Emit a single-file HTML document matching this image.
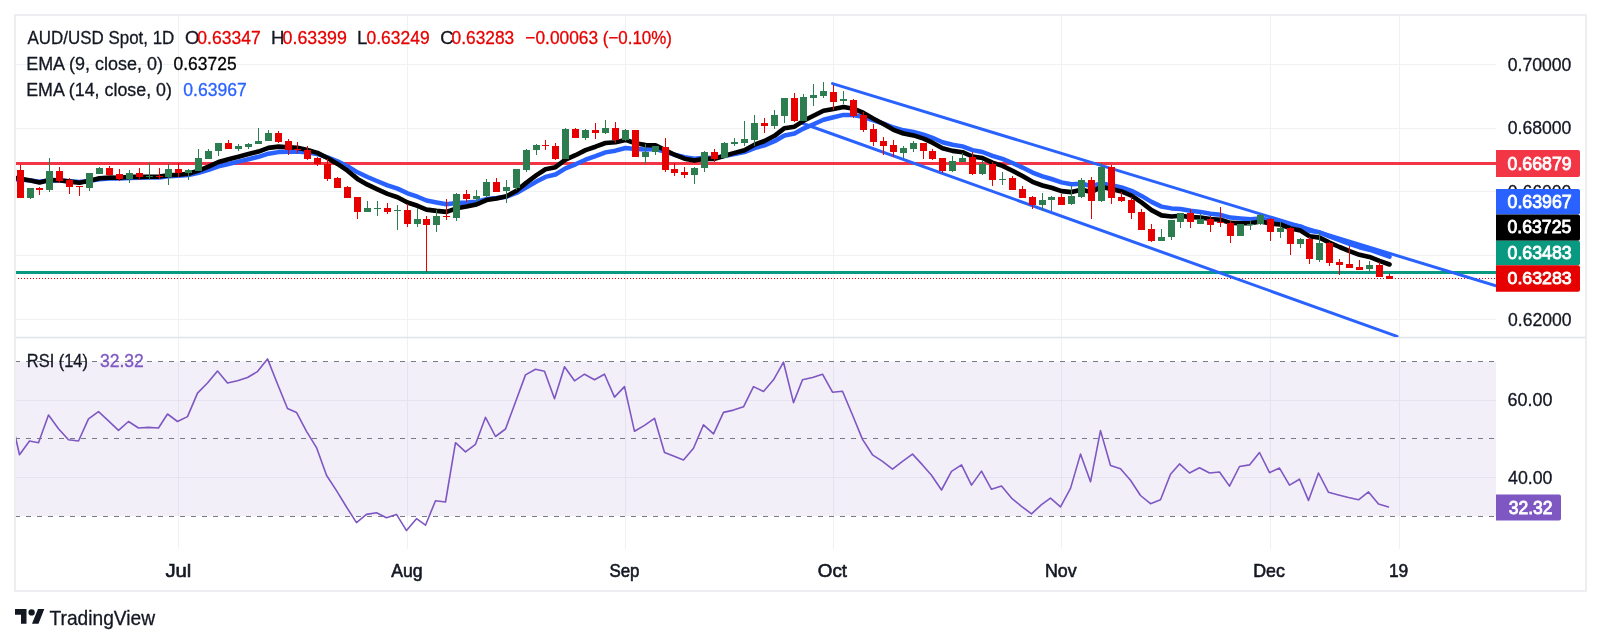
<!DOCTYPE html>
<html><head><meta charset="utf-8"><title>AUD/USD</title>
<style>html,body{margin:0;padding:0;background:#ffffff;}body{width:1601px;height:644px;overflow:hidden;position:relative;}</style>
</head><body>
<svg width="1601" height="644" viewBox="0 0 1601 644" style="position:absolute;left:0;top:0;will-change:transform"><defs><clipPath id="pp"><rect x="16" y="16" width="1480" height="321"/></clipPath><clipPath id="rp"><rect x="16" y="338" width="1480" height="211"/></clipPath></defs><rect x="15" y="15" width="1571" height="576" fill="none" stroke="#eceef2" stroke-width="2"/><line x1="178.5" y1="16" x2="178.5" y2="549" stroke="#eff1f4" stroke-width="1"/><line x1="407.5" y1="16" x2="407.5" y2="549" stroke="#eff1f4" stroke-width="1"/><line x1="625.5" y1="16" x2="625.5" y2="549" stroke="#eff1f4" stroke-width="1"/><line x1="833.5" y1="16" x2="833.5" y2="549" stroke="#eff1f4" stroke-width="1"/><line x1="1061.5" y1="16" x2="1061.5" y2="549" stroke="#eff1f4" stroke-width="1"/><line x1="1270.5" y1="16" x2="1270.5" y2="549" stroke="#eff1f4" stroke-width="1"/><line x1="1399.5" y1="16" x2="1399.5" y2="549" stroke="#eff1f4" stroke-width="1"/><line x1="16" y1="64.5" x2="1496" y2="64.5" stroke="#eff1f4" stroke-width="1"/><line x1="16" y1="128.5" x2="1496" y2="128.5" stroke="#eff1f4" stroke-width="1"/><line x1="16" y1="191.5" x2="1496" y2="191.5" stroke="#eff1f4" stroke-width="1"/><line x1="16" y1="255.5" x2="1496" y2="255.5" stroke="#eff1f4" stroke-width="1"/><line x1="16" y1="319.5" x2="1496" y2="319.5" stroke="#eff1f4" stroke-width="1"/><line x1="16" y1="400.5" x2="1496" y2="400.5" stroke="#eff1f4" stroke-width="1"/><line x1="16" y1="477.5" x2="1496" y2="477.5" stroke="#eff1f4" stroke-width="1"/><line x1="16" y1="337.5" x2="1585" y2="337.5" stroke="#e0e3eb" stroke-width="1.3"/><g clip-path="url(#pp)"><line x1="16" y1="163.5" x2="1496" y2="163.5" stroke="#f23645" stroke-width="3"/><line x1="16" y1="272.5" x2="1496" y2="272.5" stroke="#089981" stroke-width="3"/><line x1="18" y1="278.5" x2="1496" y2="278.5" stroke="#e60000" stroke-width="1" stroke-dasharray="1 2"/><line x1="832.5" y1="83.6" x2="1496" y2="285.8" stroke="#2962ff" stroke-width="3" stroke-linecap="round"/><line x1="803" y1="123.5" x2="1397" y2="336.3" stroke="#2962ff" stroke-width="3" stroke-linecap="round"/><polyline points="10.5,179.5 20.5,179.5 30.5,180.6 39.5,181.8 49.5,180.4 59.5,180.4 69.5,181.3 79.5,182.1 89.5,180.9 99.5,179.2 109.5,178.6 119.5,178.6 129.5,177.9 139.5,177.8 149.5,177.5 159.5,177.4 168.5,176.3 178.5,175.8 188.5,175.1 198.5,172.8 208.5,169.9 218.5,166.3 228.5,164.0 238.5,161.6 248.5,159.2 258.5,156.8 268.5,153.7 278.5,152.1 288.5,151.7 297.5,151.5 307.5,152.5 317.5,154.1 327.5,157.4 337.5,161.4 347.5,166.2 357.5,172.3 367.5,177.0 377.5,181.2 387.5,185.3 397.5,188.6 407.5,193.3 417.5,196.7 426.5,200.5 436.5,202.5 446.5,204.3 456.5,203.0 466.5,202.5 476.5,201.7 486.5,199.1 496.5,198.1 506.5,196.7 516.5,193.0 526.5,187.3 536.5,181.6 545.5,176.9 555.5,174.5 565.5,168.4 575.5,164.3 585.5,159.7 595.5,156.2 605.5,152.4 615.5,150.7 625.5,148.0 635.5,149.1 645.5,149.6 655.5,149.1 665.5,151.9 674.5,154.7 684.5,157.3 694.5,158.7 704.5,157.8 714.5,158.0 724.5,156.0 734.5,154.1 744.5,152.1 754.5,148.2 764.5,145.3 774.5,141.2 784.5,135.5 794.5,133.5 803.5,128.6 813.5,124.2 823.5,119.8 833.5,117.3 843.5,114.9 853.5,115.0 863.5,117.0 873.5,120.3 883.5,123.7 893.5,127.5 903.5,130.3 913.5,132.0 923.5,134.6 932.5,137.8 942.5,142.2 952.5,144.7 962.5,146.4 972.5,150.1 982.5,152.0 992.5,155.8 1002.5,158.9 1012.5,163.0 1022.5,167.6 1032.5,172.6 1042.5,176.3 1051.5,179.0 1061.5,182.4 1071.5,184.2 1081.5,183.7 1091.5,186.0 1101.5,183.4 1111.5,185.3 1121.5,187.4 1131.5,190.8 1141.5,195.9 1151.5,201.9 1161.5,206.6 1171.5,208.4 1180.5,209.0 1190.5,210.8 1200.5,211.9 1210.5,213.7 1220.5,214.8 1230.5,217.6 1240.5,218.5 1250.5,219.2 1260.5,218.6 1270.5,220.3 1280.5,221.4 1290.5,224.4 1300.5,226.4 1309.5,230.7 1319.5,232.3 1329.5,236.4 1339.5,240.2 1349.5,243.8 1359.5,247.2 1369.5,249.7 1379.5,253.2 1389.5,256.7" fill="none" stroke="#2962ff" stroke-width="4.5" stroke-linejoin="round" stroke-linecap="round"/><polyline points="10.5,177.0 20.5,178.8 30.5,180.6 39.5,182.4 49.5,180.1 59.5,180.3 69.5,181.6 79.5,182.7 89.5,180.8 99.5,178.3 109.5,177.6 119.5,177.8 129.5,176.9 139.5,176.9 149.5,176.7 159.5,176.6 168.5,175.2 178.5,174.7 188.5,173.8 198.5,170.6 208.5,166.7 218.5,162.0 228.5,159.3 238.5,156.7 248.5,154.1 258.5,151.6 268.5,147.9 278.5,146.6 288.5,147.2 297.5,147.8 307.5,150.0 317.5,152.9 327.5,158.0 337.5,163.9 347.5,170.7 357.5,178.9 367.5,184.7 377.5,189.4 387.5,193.9 397.5,197.2 407.5,202.5 417.5,205.8 426.5,209.6 436.5,210.9 446.5,211.9 456.5,208.3 466.5,206.5 476.5,204.5 486.5,200.1 496.5,198.4 506.5,196.2 516.5,190.8 526.5,182.6 536.5,175.1 545.5,169.3 555.5,167.2 565.5,159.6 575.5,155.2 585.5,150.1 595.5,146.7 605.5,143.0 615.5,142.3 625.5,139.9 635.5,143.2 645.5,145.1 655.5,145.3 665.5,150.2 674.5,154.7 684.5,158.7 694.5,160.6 704.5,158.8 714.5,158.9 724.5,155.7 734.5,152.9 744.5,150.2 754.5,144.7 764.5,141.0 774.5,135.8 784.5,128.2 794.5,126.7 803.5,120.8 813.5,115.7 823.5,110.7 833.5,108.9 843.5,106.9 853.5,108.7 863.5,112.9 873.5,118.7 883.5,124.1 893.5,129.8 903.5,133.5 913.5,135.4 923.5,138.6 932.5,142.7 942.5,148.2 952.5,150.9 962.5,152.2 972.5,156.5 982.5,158.1 992.5,162.6 1002.5,165.9 1012.5,170.7 1022.5,176.1 1032.5,181.8 1042.5,185.5 1051.5,187.8 1061.5,191.1 1071.5,192.1 1081.5,189.7 1091.5,191.9 1101.5,186.9 1111.5,189.1 1121.5,191.4 1131.5,195.7 1141.5,202.4 1151.5,210.1 1161.5,215.4 1171.5,216.5 1180.5,215.8 1190.5,217.1 1200.5,217.5 1210.5,219.0 1220.5,219.7 1230.5,222.9 1240.5,223.2 1250.5,223.2 1260.5,221.6 1270.5,223.6 1280.5,224.5 1290.5,228.4 1300.5,230.6 1309.5,236.2 1319.5,237.6 1329.5,242.6 1339.5,247.0 1349.5,251.1 1359.5,254.8 1369.5,256.9 1379.5,260.9 1389.5,264.5" fill="none" stroke="#000000" stroke-width="4.6" stroke-linejoin="round" stroke-linecap="round"/><rect x="20" y="165" width="1" height="33" fill="#e60000"/><rect x="17" y="170" width="7" height="28" fill="#e60000"/><rect x="30" y="188" width="1" height="11" fill="#2e7d50"/><rect x="27" y="188" width="7" height="10" fill="#2e7d50"/><rect x="39" y="187" width="1" height="8" fill="#e60000"/><rect x="36" y="188" width="7" height="2" fill="#e60000"/><rect x="49" y="158" width="1" height="34" fill="#2e7d50"/><rect x="46" y="171" width="7" height="19" fill="#2e7d50"/><rect x="59" y="167" width="1" height="16" fill="#e60000"/><rect x="56" y="171" width="7" height="10" fill="#e60000"/><rect x="69" y="178" width="1" height="16" fill="#e60000"/><rect x="66" y="180" width="7" height="7" fill="#e60000"/><rect x="79" y="186" width="1" height="10" fill="#e60000"/><rect x="76" y="186" width="7" height="1" fill="#e60000"/><rect x="89" y="173" width="1" height="18" fill="#2e7d50"/><rect x="86" y="173" width="7" height="15" fill="#2e7d50"/><rect x="99" y="167" width="1" height="7" fill="#2e7d50"/><rect x="96" y="168" width="7" height="6" fill="#2e7d50"/><rect x="109" y="166" width="1" height="10" fill="#e60000"/><rect x="106" y="168" width="7" height="7" fill="#e60000"/><rect x="119" y="169" width="1" height="12" fill="#e60000"/><rect x="116" y="174" width="7" height="5" fill="#e60000"/><rect x="129" y="170" width="1" height="13" fill="#2e7d50"/><rect x="126" y="173" width="7" height="6" fill="#2e7d50"/><rect x="139" y="168" width="1" height="12" fill="#e60000"/><rect x="136" y="173" width="7" height="4" fill="#e60000"/><rect x="149" y="163" width="1" height="17" fill="#2e7d50"/><rect x="146" y="176" width="7" height="1" fill="#2e7d50"/><rect x="159" y="168" width="1" height="11" fill="#e60000"/><rect x="156" y="176" width="7" height="1" fill="#e60000"/><rect x="168" y="164" width="1" height="21" fill="#2e7d50"/><rect x="165" y="169" width="7" height="8" fill="#2e7d50"/><rect x="178" y="163" width="1" height="14" fill="#e60000"/><rect x="175" y="169" width="7" height="4" fill="#e60000"/><rect x="188" y="169" width="1" height="11" fill="#2e7d50"/><rect x="185" y="170" width="7" height="3" fill="#2e7d50"/><rect x="198" y="149" width="1" height="22" fill="#2e7d50"/><rect x="195" y="158" width="7" height="13" fill="#2e7d50"/><rect x="208" y="149" width="1" height="10" fill="#2e7d50"/><rect x="205" y="151" width="7" height="8" fill="#2e7d50"/><rect x="218" y="143" width="1" height="13" fill="#2e7d50"/><rect x="215" y="143" width="7" height="8" fill="#2e7d50"/><rect x="228" y="140" width="1" height="9" fill="#e60000"/><rect x="225" y="143" width="7" height="6" fill="#e60000"/><rect x="238" y="144" width="1" height="7" fill="#2e7d50"/><rect x="235" y="146" width="7" height="3" fill="#2e7d50"/><rect x="248" y="143" width="1" height="6" fill="#2e7d50"/><rect x="245" y="144" width="7" height="3" fill="#2e7d50"/><rect x="258" y="128" width="1" height="16" fill="#2e7d50"/><rect x="255" y="141" width="7" height="3" fill="#2e7d50"/><rect x="268" y="130" width="1" height="11" fill="#2e7d50"/><rect x="265" y="133" width="7" height="8" fill="#2e7d50"/><rect x="278" y="131" width="1" height="12" fill="#e60000"/><rect x="275" y="133" width="7" height="9" fill="#e60000"/><rect x="288" y="139" width="1" height="16" fill="#e60000"/><rect x="285" y="141" width="7" height="9" fill="#e60000"/><rect x="297" y="142" width="1" height="11" fill="#e60000"/><rect x="294" y="149" width="7" height="1" fill="#e60000"/><rect x="307" y="146" width="1" height="14" fill="#e60000"/><rect x="304" y="150" width="7" height="9" fill="#e60000"/><rect x="317" y="157" width="1" height="9" fill="#e60000"/><rect x="314" y="158" width="7" height="6" fill="#e60000"/><rect x="327" y="159" width="1" height="22" fill="#e60000"/><rect x="324" y="164" width="7" height="15" fill="#e60000"/><rect x="337" y="177" width="1" height="11" fill="#e60000"/><rect x="334" y="178" width="7" height="10" fill="#e60000"/><rect x="347" y="186" width="1" height="12" fill="#e60000"/><rect x="344" y="187" width="7" height="11" fill="#e60000"/><rect x="357" y="197" width="1" height="22" fill="#e60000"/><rect x="354" y="197" width="7" height="15" fill="#e60000"/><rect x="367" y="201" width="1" height="11" fill="#2e7d50"/><rect x="364" y="208" width="7" height="4" fill="#2e7d50"/><rect x="377" y="201" width="1" height="15" fill="#2e7d50"/><rect x="374" y="208" width="7" height="1" fill="#2e7d50"/><rect x="387" y="203" width="1" height="11" fill="#e60000"/><rect x="384" y="208" width="7" height="4" fill="#e60000"/><rect x="397" y="205" width="1" height="25" fill="#2e7d50"/><rect x="394" y="210" width="7" height="1" fill="#2e7d50"/><rect x="407" y="204" width="1" height="23" fill="#e60000"/><rect x="404" y="210" width="7" height="14" fill="#e60000"/><rect x="417" y="208" width="1" height="19" fill="#2e7d50"/><rect x="414" y="219" width="7" height="5" fill="#2e7d50"/><rect x="426" y="216" width="1" height="56" fill="#e60000"/><rect x="423" y="219" width="7" height="6" fill="#e60000"/><rect x="436" y="210" width="1" height="22" fill="#2e7d50"/><rect x="433" y="216" width="7" height="9" fill="#2e7d50"/><rect x="446" y="199" width="1" height="21" fill="#e60000"/><rect x="443" y="216" width="7" height="1" fill="#e60000"/><rect x="456" y="193" width="1" height="28" fill="#2e7d50"/><rect x="453" y="194" width="7" height="24" fill="#2e7d50"/><rect x="466" y="190" width="1" height="12" fill="#e60000"/><rect x="463" y="194" width="7" height="5" fill="#e60000"/><rect x="476" y="190" width="1" height="12" fill="#2e7d50"/><rect x="473" y="196" width="7" height="3" fill="#2e7d50"/><rect x="486" y="179" width="1" height="18" fill="#2e7d50"/><rect x="483" y="182" width="7" height="14" fill="#2e7d50"/><rect x="496" y="178" width="1" height="14" fill="#e60000"/><rect x="493" y="182" width="7" height="10" fill="#e60000"/><rect x="506" y="180" width="1" height="23" fill="#2e7d50"/><rect x="503" y="187" width="7" height="4" fill="#2e7d50"/><rect x="516" y="169" width="1" height="21" fill="#2e7d50"/><rect x="513" y="169" width="7" height="19" fill="#2e7d50"/><rect x="526" y="149" width="1" height="23" fill="#2e7d50"/><rect x="523" y="150" width="7" height="20" fill="#2e7d50"/><rect x="536" y="144" width="1" height="11" fill="#2e7d50"/><rect x="533" y="145" width="7" height="5" fill="#2e7d50"/><rect x="545" y="140" width="1" height="10" fill="#e60000"/><rect x="542" y="145" width="7" height="1" fill="#e60000"/><rect x="555" y="143" width="1" height="17" fill="#e60000"/><rect x="552" y="146" width="7" height="13" fill="#e60000"/><rect x="565" y="128" width="1" height="31" fill="#2e7d50"/><rect x="562" y="129" width="7" height="30" fill="#2e7d50"/><rect x="575" y="128" width="1" height="10" fill="#e60000"/><rect x="572" y="129" width="7" height="9" fill="#e60000"/><rect x="585" y="129" width="1" height="11" fill="#2e7d50"/><rect x="582" y="130" width="7" height="8" fill="#2e7d50"/><rect x="595" y="123" width="1" height="16" fill="#e60000"/><rect x="592" y="130" width="7" height="3" fill="#e60000"/><rect x="605" y="120" width="1" height="14" fill="#2e7d50"/><rect x="602" y="128" width="7" height="5" fill="#2e7d50"/><rect x="615" y="122" width="1" height="21" fill="#e60000"/><rect x="612" y="128" width="7" height="12" fill="#e60000"/><rect x="625" y="129" width="1" height="12" fill="#2e7d50"/><rect x="622" y="130" width="7" height="10" fill="#2e7d50"/><rect x="635" y="130" width="1" height="27" fill="#e60000"/><rect x="632" y="130" width="7" height="27" fill="#e60000"/><rect x="645" y="144" width="1" height="20" fill="#2e7d50"/><rect x="642" y="152" width="7" height="5" fill="#2e7d50"/><rect x="655" y="146" width="1" height="9" fill="#2e7d50"/><rect x="652" y="146" width="7" height="6" fill="#2e7d50"/><rect x="665" y="138" width="1" height="34" fill="#e60000"/><rect x="662" y="147" width="7" height="23" fill="#e60000"/><rect x="674" y="163" width="1" height="13" fill="#e60000"/><rect x="671" y="169" width="7" height="4" fill="#e60000"/><rect x="684" y="167" width="1" height="11" fill="#e60000"/><rect x="681" y="172" width="7" height="3" fill="#e60000"/><rect x="694" y="167" width="1" height="17" fill="#2e7d50"/><rect x="691" y="168" width="7" height="7" fill="#2e7d50"/><rect x="704" y="151" width="1" height="21" fill="#2e7d50"/><rect x="701" y="152" width="7" height="16" fill="#2e7d50"/><rect x="714" y="149" width="1" height="13" fill="#e60000"/><rect x="711" y="152" width="7" height="7" fill="#e60000"/><rect x="724" y="142" width="1" height="16" fill="#2e7d50"/><rect x="721" y="143" width="7" height="15" fill="#2e7d50"/><rect x="734" y="138" width="1" height="8" fill="#2e7d50"/><rect x="731" y="142" width="7" height="2" fill="#2e7d50"/><rect x="744" y="121" width="1" height="25" fill="#2e7d50"/><rect x="741" y="139" width="7" height="4" fill="#2e7d50"/><rect x="754" y="115" width="1" height="31" fill="#2e7d50"/><rect x="751" y="123" width="7" height="17" fill="#2e7d50"/><rect x="764" y="118" width="1" height="15" fill="#e60000"/><rect x="761" y="123" width="7" height="3" fill="#e60000"/><rect x="774" y="110" width="1" height="19" fill="#2e7d50"/><rect x="771" y="115" width="7" height="11" fill="#2e7d50"/><rect x="784" y="98" width="1" height="25" fill="#2e7d50"/><rect x="781" y="98" width="7" height="18" fill="#2e7d50"/><rect x="794" y="93" width="1" height="29" fill="#e60000"/><rect x="791" y="98" width="7" height="23" fill="#e60000"/><rect x="803" y="94" width="1" height="27" fill="#2e7d50"/><rect x="800" y="97" width="7" height="24" fill="#2e7d50"/><rect x="813" y="84" width="1" height="22" fill="#2e7d50"/><rect x="810" y="95" width="7" height="3" fill="#2e7d50"/><rect x="823" y="82" width="1" height="16" fill="#2e7d50"/><rect x="820" y="91" width="7" height="5" fill="#2e7d50"/><rect x="833" y="85" width="1" height="25" fill="#e60000"/><rect x="830" y="92" width="7" height="10" fill="#e60000"/><rect x="843" y="91" width="1" height="13" fill="#2e7d50"/><rect x="840" y="99" width="7" height="2" fill="#2e7d50"/><rect x="853" y="99" width="1" height="19" fill="#e60000"/><rect x="850" y="100" width="7" height="16" fill="#e60000"/><rect x="863" y="112" width="1" height="20" fill="#e60000"/><rect x="860" y="115" width="7" height="15" fill="#e60000"/><rect x="873" y="124" width="1" height="22" fill="#e60000"/><rect x="870" y="129" width="7" height="13" fill="#e60000"/><rect x="883" y="137" width="1" height="18" fill="#e60000"/><rect x="880" y="141" width="7" height="5" fill="#e60000"/><rect x="893" y="140" width="1" height="17" fill="#e60000"/><rect x="890" y="145" width="7" height="7" fill="#e60000"/><rect x="903" y="146" width="1" height="13" fill="#2e7d50"/><rect x="900" y="148" width="7" height="5" fill="#2e7d50"/><rect x="913" y="141" width="1" height="11" fill="#2e7d50"/><rect x="910" y="143" width="7" height="6" fill="#2e7d50"/><rect x="923" y="143" width="1" height="16" fill="#e60000"/><rect x="920" y="143" width="7" height="8" fill="#e60000"/><rect x="932" y="149" width="1" height="11" fill="#e60000"/><rect x="929" y="151" width="7" height="8" fill="#e60000"/><rect x="942" y="158" width="1" height="15" fill="#e60000"/><rect x="939" y="158" width="7" height="13" fill="#e60000"/><rect x="952" y="156" width="1" height="16" fill="#2e7d50"/><rect x="949" y="161" width="7" height="10" fill="#2e7d50"/><rect x="962" y="153" width="1" height="9" fill="#2e7d50"/><rect x="959" y="158" width="7" height="4" fill="#2e7d50"/><rect x="972" y="152" width="1" height="23" fill="#e60000"/><rect x="969" y="157" width="7" height="17" fill="#e60000"/><rect x="982" y="160" width="1" height="15" fill="#2e7d50"/><rect x="979" y="164" width="7" height="10" fill="#2e7d50"/><rect x="992" y="162" width="1" height="24" fill="#e60000"/><rect x="989" y="164" width="7" height="16" fill="#e60000"/><rect x="1002" y="172" width="1" height="13" fill="#2e7d50"/><rect x="999" y="179" width="7" height="1" fill="#2e7d50"/><rect x="1012" y="176" width="1" height="14" fill="#e60000"/><rect x="1009" y="178" width="7" height="12" fill="#e60000"/><rect x="1022" y="186" width="1" height="12" fill="#e60000"/><rect x="1019" y="189" width="7" height="9" fill="#e60000"/><rect x="1032" y="196" width="1" height="13" fill="#e60000"/><rect x="1029" y="197" width="7" height="8" fill="#e60000"/><rect x="1042" y="193" width="1" height="18" fill="#2e7d50"/><rect x="1039" y="200" width="7" height="5" fill="#2e7d50"/><rect x="1051" y="196" width="1" height="15" fill="#2e7d50"/><rect x="1048" y="197" width="7" height="3" fill="#2e7d50"/><rect x="1061" y="194" width="1" height="11" fill="#e60000"/><rect x="1058" y="197" width="7" height="8" fill="#e60000"/><rect x="1071" y="186" width="1" height="19" fill="#2e7d50"/><rect x="1068" y="196" width="7" height="8" fill="#2e7d50"/><rect x="1081" y="178" width="1" height="20" fill="#2e7d50"/><rect x="1078" y="180" width="7" height="17" fill="#2e7d50"/><rect x="1091" y="177" width="1" height="42" fill="#e60000"/><rect x="1088" y="180" width="7" height="21" fill="#e60000"/><rect x="1101" y="163" width="1" height="39" fill="#2e7d50"/><rect x="1098" y="167" width="7" height="34" fill="#2e7d50"/><rect x="1111" y="165" width="1" height="39" fill="#e60000"/><rect x="1108" y="167" width="7" height="31" fill="#e60000"/><rect x="1121" y="192" width="1" height="10" fill="#e60000"/><rect x="1118" y="197" width="7" height="4" fill="#e60000"/><rect x="1131" y="197" width="1" height="22" fill="#e60000"/><rect x="1128" y="200" width="7" height="13" fill="#e60000"/><rect x="1141" y="209" width="1" height="21" fill="#e60000"/><rect x="1138" y="212" width="7" height="18" fill="#e60000"/><rect x="1151" y="224" width="1" height="18" fill="#e60000"/><rect x="1148" y="229" width="7" height="12" fill="#e60000"/><rect x="1161" y="229" width="1" height="12" fill="#2e7d50"/><rect x="1158" y="237" width="7" height="4" fill="#2e7d50"/><rect x="1171" y="220" width="1" height="20" fill="#2e7d50"/><rect x="1168" y="220" width="7" height="17" fill="#2e7d50"/><rect x="1180" y="213" width="1" height="15" fill="#2e7d50"/><rect x="1177" y="213" width="7" height="9" fill="#2e7d50"/><rect x="1190" y="209" width="1" height="19" fill="#e60000"/><rect x="1187" y="213" width="7" height="9" fill="#e60000"/><rect x="1200" y="214" width="1" height="10" fill="#2e7d50"/><rect x="1197" y="219" width="7" height="5" fill="#2e7d50"/><rect x="1210" y="216" width="1" height="16" fill="#e60000"/><rect x="1207" y="219" width="7" height="6" fill="#e60000"/><rect x="1220" y="207" width="1" height="20" fill="#e60000"/><rect x="1217" y="222" width="7" height="1" fill="#e60000"/><rect x="1230" y="221" width="1" height="22" fill="#e60000"/><rect x="1227" y="223" width="7" height="13" fill="#e60000"/><rect x="1240" y="224" width="1" height="12" fill="#2e7d50"/><rect x="1237" y="224" width="7" height="12" fill="#2e7d50"/><rect x="1250" y="220" width="1" height="10" fill="#2e7d50"/><rect x="1247" y="224" width="7" height="1" fill="#2e7d50"/><rect x="1260" y="214" width="1" height="11" fill="#2e7d50"/><rect x="1257" y="215" width="7" height="9" fill="#2e7d50"/><rect x="1270" y="218" width="1" height="23" fill="#e60000"/><rect x="1267" y="219" width="7" height="13" fill="#e60000"/><rect x="1280" y="222" width="1" height="16" fill="#2e7d50"/><rect x="1277" y="228" width="7" height="4" fill="#2e7d50"/><rect x="1290" y="227" width="1" height="28" fill="#e60000"/><rect x="1287" y="228" width="7" height="16" fill="#e60000"/><rect x="1300" y="238" width="1" height="10" fill="#2e7d50"/><rect x="1297" y="239" width="7" height="5" fill="#2e7d50"/><rect x="1309" y="237" width="1" height="27" fill="#e60000"/><rect x="1306" y="239" width="7" height="20" fill="#e60000"/><rect x="1319" y="232" width="1" height="30" fill="#2e7d50"/><rect x="1316" y="243" width="7" height="17" fill="#2e7d50"/><rect x="1329" y="242" width="1" height="24" fill="#e60000"/><rect x="1326" y="243" width="7" height="20" fill="#e60000"/><rect x="1339" y="259" width="1" height="16" fill="#e60000"/><rect x="1336" y="262" width="7" height="3" fill="#e60000"/><rect x="1349" y="246" width="1" height="22" fill="#e60000"/><rect x="1346" y="264" width="7" height="4" fill="#e60000"/><rect x="1359" y="260" width="1" height="10" fill="#e60000"/><rect x="1356" y="267" width="7" height="3" fill="#e60000"/><rect x="1369" y="261" width="1" height="11" fill="#2e7d50"/><rect x="1366" y="265" width="7" height="4" fill="#2e7d50"/><rect x="1379" y="262" width="1" height="15" fill="#e60000"/><rect x="1376" y="265" width="7" height="12" fill="#e60000"/><rect x="1389" y="274" width="1" height="5" fill="#e60000"/><rect x="1386" y="276" width="7" height="3" fill="#e60000"/></g><g clip-path="url(#rp)"><rect x="16" y="361.5" width="1480" height="154.5" fill="#f2eff9"/><line x1="16" y1="400.5" x2="1496" y2="400.5" stroke="#e6e2f0" stroke-width="1"/><line x1="16" y1="477.5" x2="1496" y2="477.5" stroke="#e6e2f0" stroke-width="1"/><line x1="178.5" y1="361.5" x2="178.5" y2="516" stroke="#e6e2f0" stroke-width="1"/><line x1="407.5" y1="361.5" x2="407.5" y2="516" stroke="#e6e2f0" stroke-width="1"/><line x1="625.5" y1="361.5" x2="625.5" y2="516" stroke="#e6e2f0" stroke-width="1"/><line x1="833.5" y1="361.5" x2="833.5" y2="516" stroke="#e6e2f0" stroke-width="1"/><line x1="1061.5" y1="361.5" x2="1061.5" y2="516" stroke="#e6e2f0" stroke-width="1"/><line x1="1270.5" y1="361.5" x2="1270.5" y2="516" stroke="#e6e2f0" stroke-width="1"/><line x1="1399.5" y1="361.5" x2="1399.5" y2="516" stroke="#e6e2f0" stroke-width="1"/><line x1="15" y1="361.5" x2="1496" y2="361.5" stroke="#787b86" stroke-width="1" stroke-dasharray="5 6"/><line x1="15" y1="438.5" x2="1496" y2="438.5" stroke="#787b86" stroke-width="1" stroke-dasharray="5 6"/><line x1="15" y1="516.5" x2="1496" y2="516.5" stroke="#787b86" stroke-width="1" stroke-dasharray="5 6"/><polyline points="9.5,410.5 19.5,454.8 29.5,441.0 38.5,442.7 48.5,415.0 58.5,428.7 68.5,439.8 78.5,441.0 88.5,418.9 98.5,411.7 108.5,420.9 118.5,430.3 128.5,421.5 138.5,428.0 148.5,427.4 158.5,428.0 167.5,414.0 177.5,421.5 187.5,416.6 197.5,393.1 207.5,383.0 217.5,371.0 227.5,383.0 237.5,380.8 247.5,377.5 257.5,371.6 267.5,358.9 277.5,384.0 287.5,408.5 296.5,412.4 306.5,431.3 316.5,447.6 326.5,475.3 336.5,490.6 346.5,507.0 356.5,522.6 366.5,514.4 376.5,512.8 386.5,517.7 396.5,514.4 406.5,530.6 416.5,518.7 425.5,525.2 435.5,500.7 445.5,502.0 455.5,442.7 465.5,451.8 475.5,444.3 485.5,417.3 495.5,436.5 505.5,429.0 515.5,402.0 525.5,374.9 535.5,369.3 544.5,371.3 554.5,398.7 564.5,366.7 574.5,380.8 584.5,374.2 594.5,379.8 604.5,374.2 614.5,397.1 624.5,386.6 634.5,431.3 644.5,425.4 654.5,418.3 664.5,452.5 673.5,456.1 683.5,460.0 693.5,448.2 703.5,424.8 713.5,433.9 723.5,412.4 733.5,410.1 743.5,406.8 753.5,386.6 763.5,391.5 773.5,379.8 783.5,362.2 793.5,402.6 802.5,379.8 812.5,377.5 822.5,374.2 832.5,392.2 842.5,391.2 852.5,415.0 862.5,439.4 872.5,454.8 882.5,461.3 892.5,469.1 902.5,461.3 912.5,454.1 922.5,464.9 931.5,475.3 941.5,490.0 951.5,471.4 961.5,464.9 971.5,485.1 981.5,471.1 991.5,489.3 1001.5,486.1 1011.5,498.1 1021.5,506.3 1031.5,513.8 1041.5,504.7 1050.5,498.1 1060.5,506.9 1070.5,488.4 1080.5,454.1 1090.5,481.8 1100.5,430.6 1110.5,465.5 1120.5,468.8 1130.5,480.2 1140.5,495.5 1150.5,503.7 1160.5,499.8 1170.5,474.3 1179.5,463.9 1189.5,473.0 1199.5,467.8 1209.5,473.0 1219.5,472.0 1229.5,486.1 1239.5,466.5 1249.5,464.9 1259.5,452.5 1269.5,472.7 1279.5,468.1 1289.5,485.1 1299.5,479.2 1308.5,500.4 1318.5,473.0 1328.5,492.3 1338.5,494.9 1348.5,497.5 1358.5,499.8 1368.5,491.9 1378.5,504.0 1388.5,506.9" fill="none" stroke="#7e57c2" stroke-width="1.6" stroke-linejoin="round" stroke-linecap="round"/></g><g font-family='"Liberation Sans", sans-serif'><text transform="matrix(0.9114,0,0,1,27.50,43.80)" x="0" y="0" font-size="18.60" fill="#131722" stroke="#131722" stroke-width="0.3">AUD/USD Spot, 1D</text><text transform="matrix(1.0000,0,0,1,185.07,43.80)" x="0" y="0" font-size="18.60" fill="#131722" stroke="#131722" stroke-width="0.3">O</text><text transform="matrix(0.9425,0,0,1,197.31,43.80)" x="0" y="0" font-size="18.60" fill="#e60000" stroke="#e60000" stroke-width="0.3">0.63347</text><text transform="matrix(1.0000,0,0,1,271.10,43.80)" x="0" y="0" font-size="18.60" fill="#131722" stroke="#131722" stroke-width="0.3">H</text><text transform="matrix(0.9577,0,0,1,282.55,43.80)" x="0" y="0" font-size="18.60" fill="#e60000" stroke="#e60000" stroke-width="0.3">0.63399</text><text transform="matrix(1.0000,0,0,1,357.10,43.80)" x="0" y="0" font-size="18.60" fill="#131722" stroke="#131722" stroke-width="0.3">L</text><text transform="matrix(0.9387,0,0,1,366.56,43.80)" x="0" y="0" font-size="18.60" fill="#e60000" stroke="#e60000" stroke-width="0.3">0.63249</text><text transform="matrix(1.0000,0,0,1,440.37,43.80)" x="0" y="0" font-size="18.60" fill="#131722" stroke="#131722" stroke-width="0.3">C</text><text transform="matrix(0.9312,0,0,1,451.57,43.80)" x="0" y="0" font-size="18.60" fill="#e60000" stroke="#e60000" stroke-width="0.3">0.63283</text><text transform="matrix(0.9321,0,0,1,525.33,43.80)" x="0" y="0" font-size="18.60" fill="#e60000" stroke="#e60000" stroke-width="0.3">−0.00063</text><text transform="matrix(0.9100,0,0,1,602.85,43.80)" x="0" y="0" font-size="18.60" fill="#e60000" stroke="#e60000" stroke-width="0.3">(−0.10%)</text><text transform="matrix(0.9664,0,0,1,26.15,70.00)" x="0" y="0" font-size="18.60" fill="#131722" stroke="#131722" stroke-width="0.3">EMA (9, close, 0)</text><text transform="matrix(0.9387,0,0,1,173.56,70.00)" x="0" y="0" font-size="18.60" fill="#000000" stroke="#000000" stroke-width="0.3">0.63725</text><text transform="matrix(0.9598,0,0,1,26.16,96.00)" x="0" y="0" font-size="18.60" fill="#131722" stroke="#131722" stroke-width="0.3">EMA (14, close, 0)</text><text transform="matrix(0.9463,0,0,1,183.31,96.00)" x="0" y="0" font-size="18.60" fill="#2962ff" stroke="#2962ff" stroke-width="0.3">0.63967</text><text transform="matrix(0.9109,0,0,1,26.87,366.60)" x="0" y="0" font-size="18.02" fill="#131722" stroke="#131722" stroke-width="0.3">RSI (14)</text><text transform="matrix(0.9756,0,0,1,99.92,366.60)" x="0" y="0" font-size="18.02" fill="#7e57c2" stroke="#7e57c2" stroke-width="0.3">32.32</text><text transform="matrix(0.9848,0,0,1,1507.76,70.70)" x="0" y="0" font-size="17.88" fill="#131722" stroke="#131722" stroke-width="0.3">0.70000</text><text transform="matrix(0.9848,0,0,1,1507.76,133.50)" x="0" y="0" font-size="17.88" fill="#131722" stroke="#131722" stroke-width="0.3">0.68000</text><text transform="matrix(0.9848,0,0,1,1507.76,197.50)" x="0" y="0" font-size="17.88" fill="#131722" stroke="#131722" stroke-width="0.3">0.66000</text><text transform="matrix(0.9816,0,0,1,1508.06,325.80)" x="0" y="0" font-size="17.88" fill="#131722" stroke="#131722" stroke-width="0.3">0.62000</text><text transform="matrix(0.9953,0,0,1,1507.60,406.10)" x="0" y="0" font-size="18.02" fill="#131722" stroke="#131722" stroke-width="0.3">60.00</text><text transform="matrix(0.9695,0,0,1,1508.06,483.90)" x="0" y="0" font-size="18.31" fill="#131722" stroke="#131722" stroke-width="0.3">40.00</text><text transform="matrix(1.0679,0,0,1,165.39,577.10)" x="0" y="0" font-size="19.04" fill="#131722" stroke="#131722" stroke-width="0.6">Jul</text><text transform="matrix(0.9256,0,0,1,391.30,577.10)" x="0" y="0" font-size="19.04" fill="#131722" stroke="#131722" stroke-width="0.6">Aug</text><text transform="matrix(0.8866,0,0,1,609.46,577.10)" x="0" y="0" font-size="19.04" fill="#131722" stroke="#131722" stroke-width="0.6">Sep</text><text transform="matrix(0.9856,0,0,1,817.81,577.10)" x="0" y="0" font-size="19.04" fill="#131722" stroke="#131722" stroke-width="0.6">Oct</text><text transform="matrix(0.9376,0,0,1,1044.91,577.10)" x="0" y="0" font-size="19.04" fill="#131722" stroke="#131722" stroke-width="0.6">Nov</text><text transform="matrix(0.9344,0,0,1,1253.27,577.10)" x="0" y="0" font-size="19.04" fill="#131722" stroke="#131722" stroke-width="0.6">Dec</text><text transform="matrix(0.9138,0,0,1,1388.89,577.10)" x="0" y="0" font-size="19.04" fill="#131722" stroke="#131722" stroke-width="0.6">19</text><text transform="matrix(0.9561,0,0,1,49.52,624.80)" x="0" y="0" font-size="20.06" fill="#131722" stroke="#131722" stroke-width="0.3">TradingView</text><path d="M1496,150 H1578 Q1580,150 1580,152 V175 Q1580,177 1578,177 H1496 Z" fill="#f23645"/><text transform="matrix(0.9392,0,0,1,1507.56,170.10)" x="0" y="0" font-size="18.90" fill="#ffffff" stroke="#ffffff" stroke-width="0.85">0.66879</text><path d="M1496,189 H1578 Q1580,189 1580,191 V212.5 Q1580,214.5 1578,214.5 H1496 Z" fill="#2962ff"/><text transform="matrix(0.9768,0,0,1,1507.56,207.90)" x="0" y="0" font-size="18.17" fill="#ffffff" stroke="#ffffff" stroke-width="0.85">0.63967</text><path d="M1496,214.5 H1578 Q1580,214.5 1580,216.5 V238.8 Q1580,240.8 1578,240.8 H1496 Z" fill="#000000"/><text transform="matrix(1.0020,0,0,1,1507.56,233.30)" x="0" y="0" font-size="17.59" fill="#ffffff" stroke="#ffffff" stroke-width="0.85">0.63725</text><path d="M1496,240.8 H1578 Q1580,240.8 1580,242.8 V263.2 Q1580,265.2 1578,265.2 H1496 Z" fill="#089981"/><text transform="matrix(0.9926,0,0,1,1507.56,259.30)" x="0" y="0" font-size="17.88" fill="#ffffff" stroke="#ffffff" stroke-width="0.85">0.63483</text><path d="M1496,265.2 H1578 Q1580,265.2 1580,267.2 V289.7 Q1580,291.7 1578,291.7 H1496 Z" fill="#e60000"/><text transform="matrix(1.0347,0,0,1,1507.56,283.90)" x="0" y="0" font-size="17.15" fill="#ffffff" stroke="#ffffff" stroke-width="0.85">0.63283</text><path d="M1496,494.4 H1559 Q1561,494.4 1561,496.4 V518.4 Q1561,520.4 1559,520.4 H1496 Z" fill="#7e57c2"/><text transform="matrix(0.9561,0,0,1,1508.66,513.90)" x="0" y="0" font-size="18.31" fill="#ffffff" stroke="#ffffff" stroke-width="0.85">32.32</text><path d="M15,609 H26.5 V623.8 H21 V614.8 H15 Z" fill="#131722"/><circle cx="31.6" cy="612.4" r="3.15" fill="#131722"/><path d="M38,609 H44.3 L38.5,623.8 H32 Z" fill="#131722"/></g></svg>
</body></html>
